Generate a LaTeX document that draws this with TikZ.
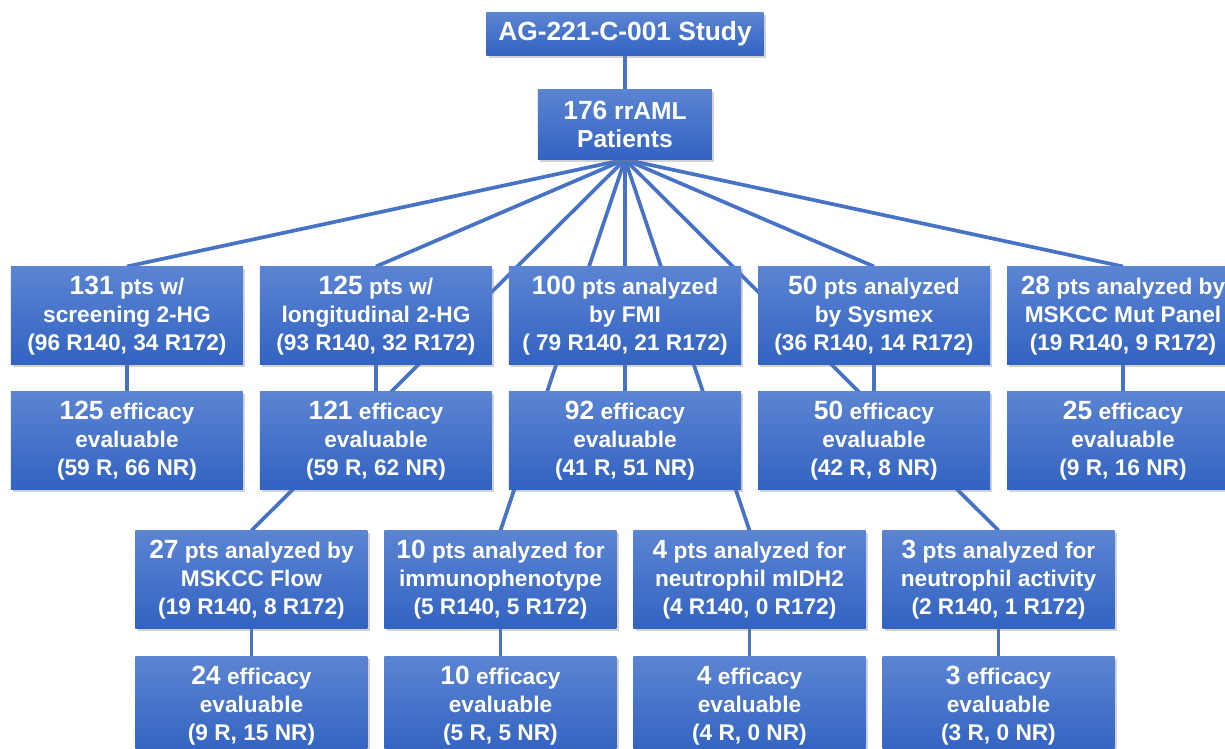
\documentclass[tikz,border=0pt]{standalone}
\usepackage{fontspec}
\setmainfont{Liberation Sans}
\usetikzlibrary{positioning,shadows,backgrounds}
\definecolor{boxtop}{HTML}{5B84D2}
\definecolor{boxbottom}{HTML}{3263C2}
\definecolor{linkblue}{HTML}{4673C6}
\newcommand{\bignum}[1]{{\fontsize{15}{16}\selectfont #1}}

\begin{document}
\begin{tikzpicture}[node distance=0.54cm and 0.34cm,
        box node/.style={rectangle,top color=boxtop,bottom color=boxbottom,text=white,
            align=center,inner sep=0pt,outer sep=0pt,minimum width=4.64cm,minimum height=1.96cm,
            font=\fontsize{12.9}{16}\selectfont\bfseries,
            drop shadow={shadow xshift=1.4pt,shadow yshift=-1.4pt,opacity=0.35}},
        link/.style={every edge/.style={draw=linkblue,line width=2.1pt}}]
            \path[use as bounding box,clip] (-12.5,0.68) rectangle (12,-14.3);
            \node[box node,minimum width=5.54cm,minimum height=0.86cm,
                font=\fontsize{15}{16}\selectfont\bfseries] (study) {AG-221-C-001 Study};
            \node[box node,minimum width=3.48cm,minimum height=1.4cm,
                font=\fontsize{14}{16}\selectfont\bfseries] (pat) [below=0.68cm of study] {\bignum{176} rrAML\\Patients};
            % row 1
            \node[box node] (fmi) [below=2.14cm of pat] {\bignum{100} pts analyzed\\by FMI\\( 79 R140, 21 R172)};
            \node[box node] (long) [left=of fmi] {\bignum{125} pts w/\\longitudinal 2-HG\\(93 R140, 32 R172)};
            \node[box node] (scr) [left=of long] {\bignum{131} pts w/\\screening 2-HG\\(96 R140, 34 R172)};
            \node[box node] (sys) [right=of fmi] {\bignum{50} pts analyzed\\by Sysmex\\(36 R140, 14 R172)};
            \node[box node] (mut) [right=of sys] {\bignum{28} pts analyzed by\\MSKCC Mut Panel\\(19 R140, 9 R172)};
            % row 2
            \node[box node] (evscr) [below=of scr] {\bignum{125} efficacy\\evaluable\\(59 R, 66 NR)};
            \node[box node] (evlong) [below=of long] {\bignum{121} efficacy\\evaluable\\(59 R, 62 NR)};
            \node[box node] (evfmi) [below=of fmi] {\bignum{92} efficacy\\evaluable\\(41 R, 51 NR)};
            \node[box node] (evsys) [below=of sys] {\bignum{50} efficacy\\evaluable\\(42 R, 8 NR)};
            \node[box node] (evmut) [below=of mut] {\bignum{25} efficacy\\evaluable\\(9 R, 16 NR)};
            % row 3
            \node[box node] (flow) [below=0.82cm of evscr,xshift=2.49cm] {\bignum{27} pts analyzed by\\MSKCC Flow\\(19 R140, 8 R172)};
            \node[box node] (immuno) [below=0.82cm of evlong,xshift=2.49cm] {\bignum{10} pts analyzed for\\immunophenotype\\(5 R140, 5 R172)};
            \node[box node] (midh) [below=0.82cm of evfmi,xshift=2.49cm] {\bignum{4} pts analyzed for\\neutrophil mIDH2\\(4 R140, 0 R172)};
            \node[box node] (neut) [below=0.82cm of evsys,xshift=2.49cm] {\bignum{3} pts analyzed for\\neutrophil activity\\(2 R140, 1 R172)};
            % row 4
            \node[box node] (evflow) [below=0.56cm of flow] {\bignum{24} efficacy\\evaluable\\(9 R, 15 NR)};
            \node[box node] (evimmuno) [below=0.56cm of immuno] {\bignum{10} efficacy\\evaluable\\(5 R, 5 NR)};
            \node[box node] (evmidh) [below=0.56cm of midh] {\bignum{4} efficacy\\evaluable\\(4 R, 0 NR)};
            \node[box node] (evneut) [below=0.56cm of neut] {\bignum{3} efficacy\\evaluable\\(3 R, 0 NR)};
            \begin{scope}[on background layer]
            \fill[white] (-12.5,0.68) rectangle (12,-14.3);
            \path[link]
            (study) edge (pat)
            (pat.south) edge (scr.north)
            (pat.south) edge (long.north)
            (pat.south) edge (fmi.north)
            (pat.south) edge (sys.north)
            (pat.south) edge (mut.north)
            (pat.south) edge (flow.north)
            (pat.south) edge (immuno.north)
            (pat.south) edge (midh.north)
            (pat.south) edge (neut.north)
            (scr) edge (evscr)
            (long) edge (evlong)
            (fmi) edge (evfmi)
            (sys) edge (evsys)
            (mut) edge (evmut)
            (flow) edge (evflow)
            (immuno) edge (evimmuno)
            (midh) edge (evmidh)
            (neut) edge (evneut)
            ;
            \end{scope}
        \end{tikzpicture}
\end{document}
